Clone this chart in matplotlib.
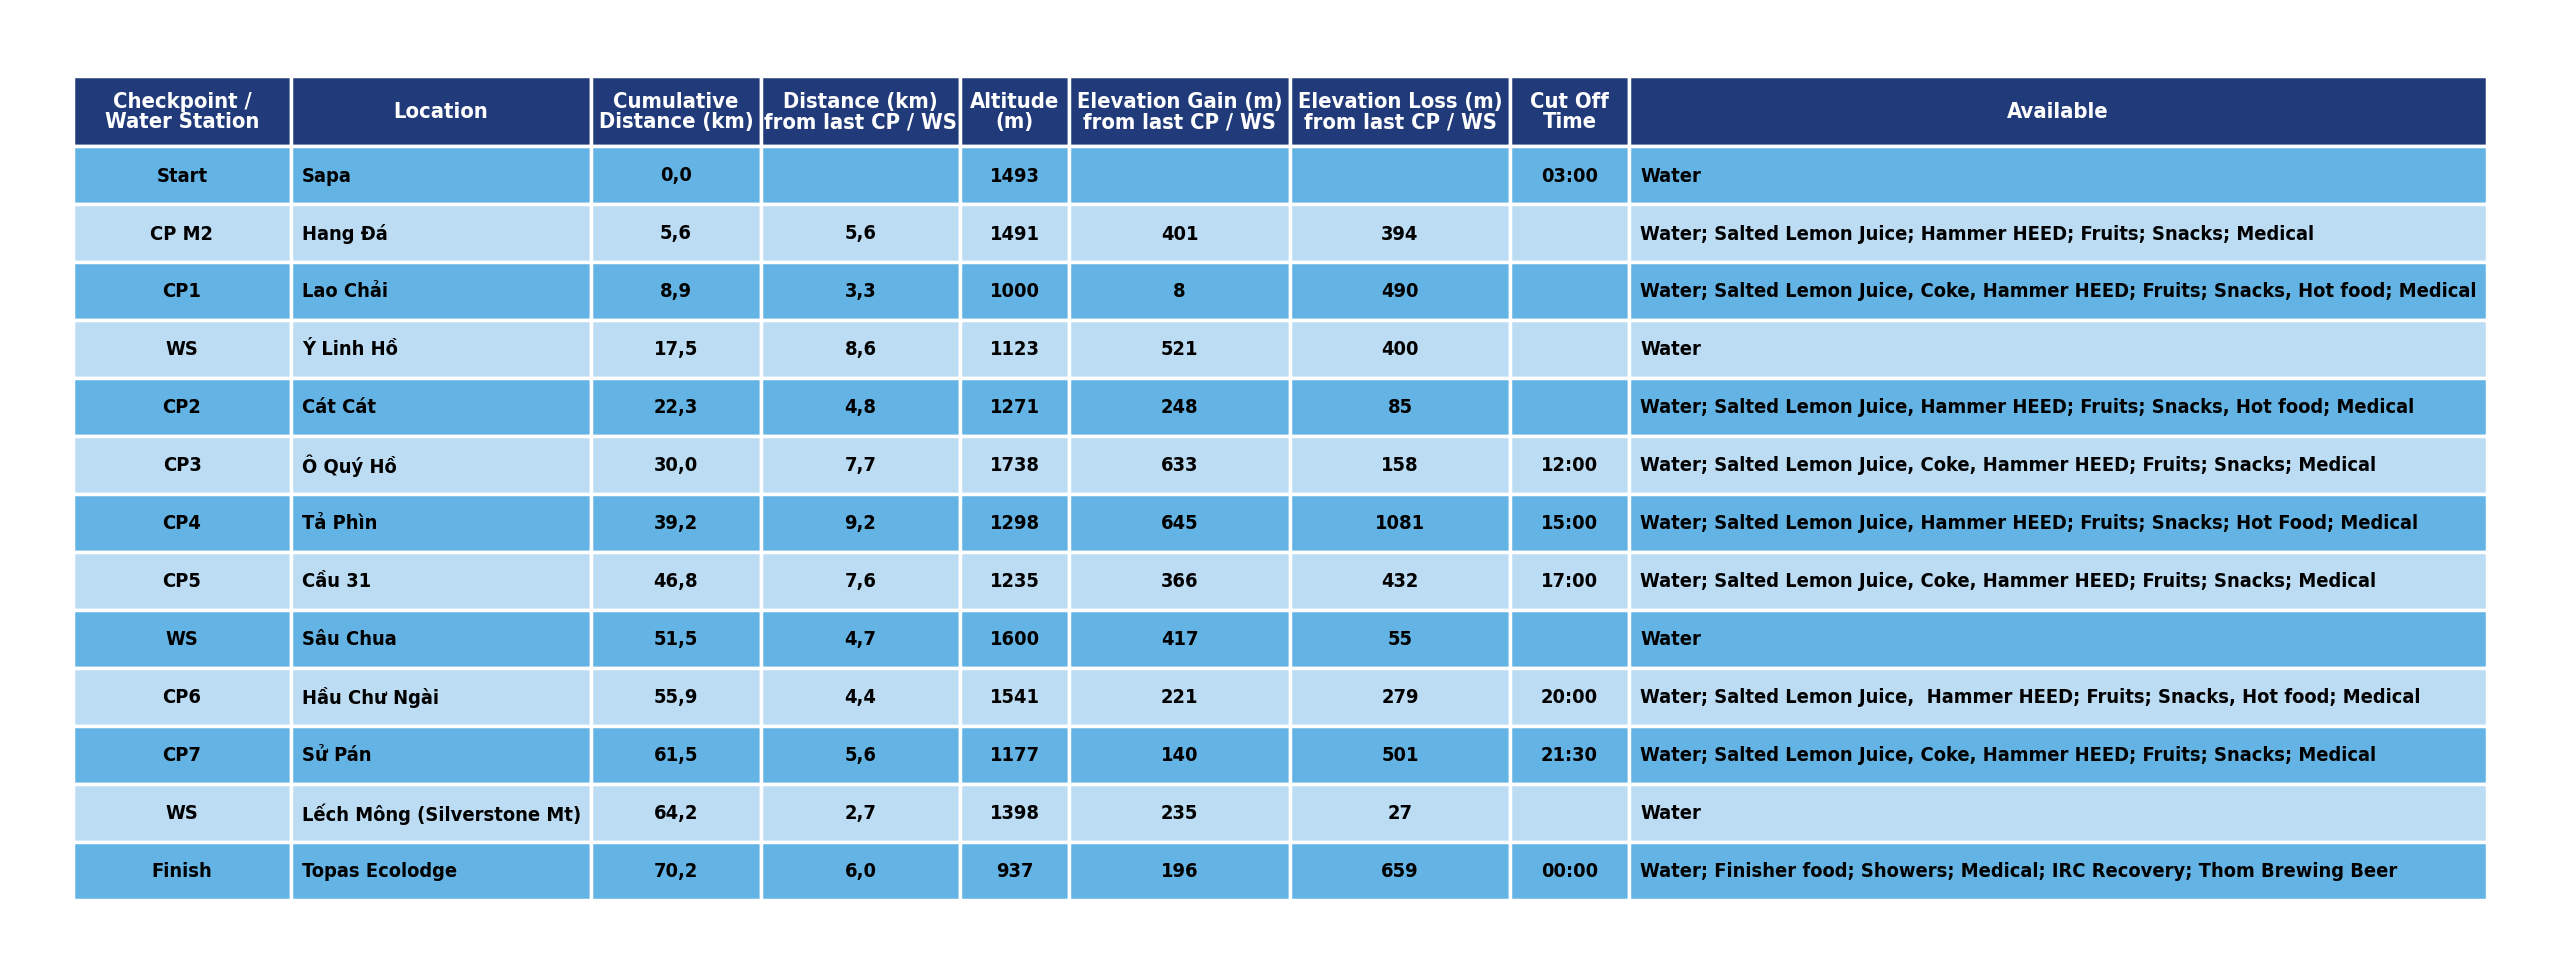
import matplotlib.pyplot as plt
from matplotlib.patches import Rectangle
from matplotlib import font_manager

# table data
headers = ["Checkpoint /\nWater Station", "Location", "Cumulative\nDistance (km)",
           "Distance (km)\nfrom last CP / WS", "Altitude\n(m)",
           "Elevation Gain (m)\nfrom last CP / WS", "Elevation Loss (m)\nfrom last CP / WS",
           "Cut Off\nTime", "Available"]
checkpoints = ["Start", "CP M2", "CP1", "WS", "CP2", "CP3", "CP4", "CP5", "WS", "CP6", "CP7", "WS", "Finish"]
locations = ["Sapa", "Hang Đá", "Lao Chải", "Ý Linh Hồ", "Cát Cát", "Ô Quý Hồ", "Tả Phìn",
             "Cầu 31", "Sâu Chua", "Hầu Chư Ngài", "Sử Pán", "Lếch Mông (Silverstone Mt)",
             "Topas Ecolodge"]
cum_dist = ["0,0", "5,6", "8,9", "17,5", "22,3", "30,0", "39,2", "46,8", "51,5", "55,9", "61,5", "64,2", "70,2"]
leg_dist = ["", "5,6", "3,3", "8,6", "4,8", "7,7", "9,2", "7,6", "4,7", "4,4", "5,6", "2,7", "6,0"]
altitude = ["1493", "1491", "1000", "1123", "1271", "1738", "1298", "1235", "1600", "1541", "1177", "1398", "937"]
gain = ["", "401", "8", "521", "248", "633", "645", "366", "417", "221", "140", "235", "196"]
loss = ["", "394", "490", "400", "85", "158", "1081", "432", "55", "279", "501", "27", "659"]
cutoff = ["03:00", "", "", "", "", "12:00", "15:00", "17:00", "", "20:00", "21:30", "", "00:00"]
available = [
    "Water",
    "Water; Salted Lemon Juice; Hammer HEED; Fruits; Snacks; Medical",
    "Water; Salted Lemon Juice, Coke, Hammer HEED; Fruits; Snacks, Hot food; Medical",
    "Water",
    "Water; Salted Lemon Juice, Hammer HEED; Fruits; Snacks, Hot food; Medical",
    "Water; Salted Lemon Juice, Coke, Hammer HEED; Fruits; Snacks; Medical",
    "Water; Salted Lemon Juice, Hammer HEED; Fruits; Snacks; Hot Food; Medical",
    "Water; Salted Lemon Juice, Coke, Hammer HEED; Fruits; Snacks; Medical",
    "Water",
    "Water; Salted Lemon Juice,  Hammer HEED; Fruits; Snacks, Hot food; Medical",
    "Water; Salted Lemon Juice, Coke, Hammer HEED; Fruits; Snacks; Medical",
    "Water",
    "Water; Finisher food; Showers; Medical; IRC Recovery; Thom Brewing Beer",
]

columns = [checkpoints, locations, cum_dist, leg_dist, altitude, gain, loss, cutoff, available]
col_edges = [73, 291, 591, 761, 960, 1069, 1290, 1510, 1629, 2487]
left_cols = {1, 8}
top, header_h, row_h = 77, 70, 58

navy = "#213a7a"
row_colors = ["#63b4e5", "#bcdcf4"]

# look for a narrow bold font, otherwise fall back to DejaVu Sans bold
font = None
for f in font_manager.fontManager.ttflist:
    n = f.name.lower()
    if ("narrow" in n or "condensed" in n or "condensed" in str(f.stretch)) and \
            (f.weight in ("bold", 700) or "bold" in f.fname.lower()):
        font = font_manager.FontProperties(fname=f.fname)
        break
if font is None:
    font = font_manager.FontProperties(family="DejaVu Sans", weight="bold")

fig = plt.figure(figsize=(25.6, 9.79), dpi=100)
ax = fig.add_axes([0, 0, 1, 1])
ax.set_xlim(0, 2560)
ax.set_ylim(979, 0)
ax.axis("off")

head_texts = []
body_texts = []

# header
for c in range(len(headers)):
    x0, x1 = col_edges[c], col_edges[c + 1]
    ax.add_patch(Rectangle((x0, top), x1 - x0, header_h, facecolor=navy,
                           edgecolor="white", linewidth=2.5))
    t = ax.text((x0 + x1) / 2, top + header_h / 2, headers[c], ha="center", va="center",
                color="white", fontproperties=font, fontsize=17, linespacing=1.0)
    head_texts.append((t, c, 6))

# body
for r in range(len(checkpoints)):
    y0 = top + header_h + r * row_h
    for c, col in enumerate(columns):
        x0, x1 = col_edges[c], col_edges[c + 1]
        ax.add_patch(Rectangle((x0, y0), x1 - x0, row_h, facecolor=row_colors[r % 2],
                               edgecolor="white", linewidth=2.5))
        if c in left_cols:
            tx, ha = x0 + 11, "left"
        else:
            tx, ha = (x0 + x1) / 2, "center"
        t = ax.text(tx, y0 + row_h / 2, col[r], ha=ha, va="center", color="black",
                    fontproperties=font, fontsize=18)
        body_texts.append((t, c, 16))


def fit_group(group, rend):
    # one shared size for the group, small enough that every text fits its cell
    scale = 1.0
    for t, c, pad in group:
        w = t.get_window_extent(rend).width
        room = col_edges[c + 1] - col_edges[c] - pad
        if w > 0:
            scale = min(scale, room / w)
    for t, c, pad in group:
        t.set_fontsize(t.get_fontsize() * scale)


fig.canvas.draw()
rend = fig.canvas.get_renderer()
fit_group(head_texts, rend)
fit_group(body_texts, rend)

fig.savefig("out.png", dpi=100, facecolor="white")
